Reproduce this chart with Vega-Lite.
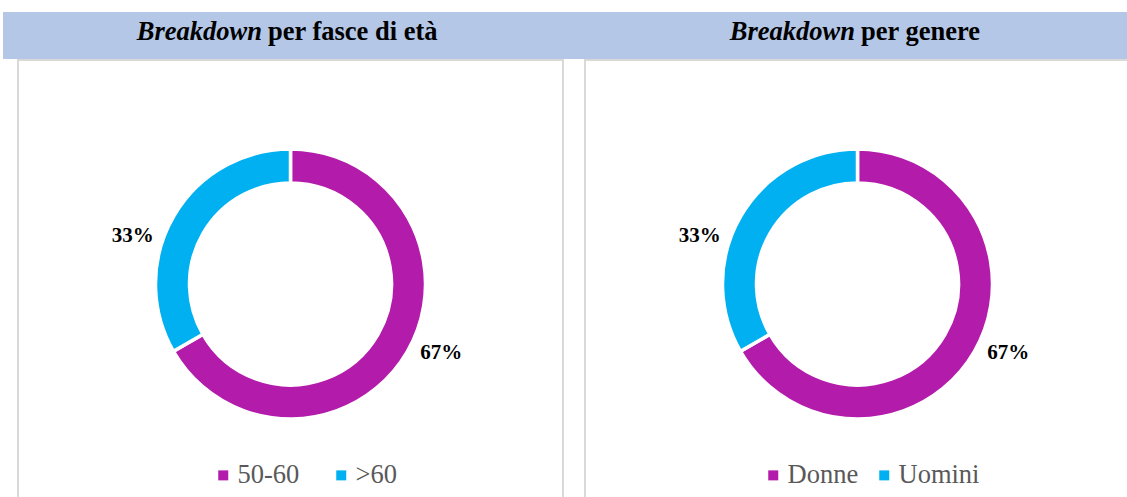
{
  "$schema": "https://vega.github.io/schema/vega-lite/v6.json",
  "padding": {"left": 3, "top": 12, "right": 0, "bottom": 0},
  "background": "white",
  "config": {
    "font": "Liberation Serif",
    "legend": {
      "labelFont": "Liberation Serif",
      "labelFontSize": 26.5,
      "labelColor": "#595959",
      "symbolType": "square",
      "symbolSize": 100,
      "symbolStrokeWidth": 0,
      "labelOffset": 1,
      "padding": 0,
      "offset": 0
    }
  },
  "spacing": 0,
  "vconcat": [
    {
      "width": 1124,
      "height": 47,
      "view": {"fill": "#B4C7E7", "stroke": null},
      "data": {"values": [
        {"pannello": "A", "corsivo": "Breakdown", "resto": "per fasce di età"},
        {"pannello": "B", "corsivo": "Breakdown", "resto": "per genere"}
      ]},
      "encoding": {
        "x": {"field": "pannello", "type": "nominal", "axis": null, "scale": {"type": "point", "range": [262, 855], "padding": 0}}
      },
      "layer": [
        {
          "mark": {"type": "text", "align": "right", "baseline": "alphabetic", "dx": -3, "dy": 4, "fontStyle": "italic", "fontWeight": "bold", "fontSize": 26.5, "fill": "black"},
          "encoding": {"text": {"field": "corsivo"}}
        },
        {
          "mark": {"type": "text", "align": "left", "baseline": "alphabetic", "dx": 3, "dy": 4, "fontWeight": "bold", "fontSize": 26.5, "fill": "black"},
          "encoding": {"text": {"field": "resto"}}
        }
      ]
    },
    {
      "spacing": 0,
      "hconcat": [
        {
          "width": 14,
          "height": 448,
          "view": {"stroke": null},
          "data": {"values": [{"vuoto": ""}]},
          "mark": "text",
          "encoding": {"text": {"field": "vuoto"}}
        },
        {
          "spacing": 20,
          "resolve": {"scale": {"color": "independent", "theta": "independent"}},
          "hconcat": [
            {
              "width": 545,
              "height": 448,
              "view": {"stroke": "#D9D9D9", "strokeWidth": 2},
              "data": {"values": [
                {"fascia": "50-60", "quota": 0.667, "ordine": 1},
                {"fascia": ">60", "quota": 0.333, "ordine": 2}
              ]},
              "encoding": {
                "theta": {"field": "quota", "type": "quantitative", "stack": true},
                "order": {"field": "ordine", "type": "quantitative"}
              },
              "layer": [
                {
                  "mark": {"type": "arc", "outerRadius": 135, "innerRadius": 101, "stroke": "white", "strokeWidth": 3.5},
                  "encoding": {
                    "color": {"field": "fascia", "type": "nominal", "sort": ["50-60", ">60"],
                      "scale": {"domain": ["50-60", ">60"], "range": ["#B31BAB", "#00B0F0"]},
                      "legend": {"orient": "none", "legendX": 192, "legendY": 402, "direction": "horizontal", "title": null, "columnPadding": 28}}
                  }
                },
                {
                  "mark": {"type": "text", "radius": 166, "dx": -14, "dy": 35, "fontWeight": "bold", "fontSize": 21, "fill": "black"},
                  "encoding": {
                    "text": {"field": "quota", "type": "quantitative", "format": ".0%"},
                    "opacity": {"condition": {"test": "datum.fascia === '>60'", "value": 1}, "value": 0}
                  }
                },
                {
                  "mark": {"type": "text", "radius": 166, "dx": 7, "dy": -14, "fontWeight": "bold", "fontSize": 21, "fill": "black"},
                  "encoding": {
                    "text": {"field": "quota", "type": "quantitative", "format": ".0%"},
                    "opacity": {"condition": {"test": "datum.fascia === '50-60'", "value": 1}, "value": 0}
                  }
                }
              ]
            },
            {
              "width": 545,
              "height": 448,
              "view": {"stroke": "#D9D9D9", "strokeWidth": 2},
              "data": {"values": [
                {"genere": "Donne", "quota": 0.667, "ordine": 1},
                {"genere": "Uomini", "quota": 0.333, "ordine": 2}
              ]},
              "encoding": {
                "theta": {"field": "quota", "type": "quantitative", "stack": true},
                "order": {"field": "ordine", "type": "quantitative"}
              },
              "layer": [
                {
                  "mark": {"type": "arc", "outerRadius": 135, "innerRadius": 101, "stroke": "white", "strokeWidth": 3.5},
                  "encoding": {
                    "color": {"field": "genere", "type": "nominal", "sort": ["Donne", "Uomini"],
                      "scale": {"domain": ["Donne", "Uomini"], "range": ["#B31BAB", "#00B0F0"]},
                      "legend": {"orient": "none", "legendX": 175, "legendY": 402, "direction": "horizontal", "title": null, "columnPadding": 12}}
                  }
                },
                {
                  "mark": {"type": "text", "radius": 166, "dx": -14, "dy": 35, "fontWeight": "bold", "fontSize": 21, "fill": "black"},
                  "encoding": {
                    "text": {"field": "quota", "type": "quantitative", "format": ".0%"},
                    "opacity": {"condition": {"test": "datum.genere === 'Uomini'", "value": 1}, "value": 0}
                  }
                },
                {
                  "mark": {"type": "text", "radius": 166, "dx": 7, "dy": -14, "fontWeight": "bold", "fontSize": 21, "fill": "black"},
                  "encoding": {
                    "text": {"field": "quota", "type": "quantitative", "format": ".0%"},
                    "opacity": {"condition": {"test": "datum.genere === 'Donne'", "value": 1}, "value": 0}
                  }
                }
              ]
            }
          ]
        }
      ]
    }
  ]
}
